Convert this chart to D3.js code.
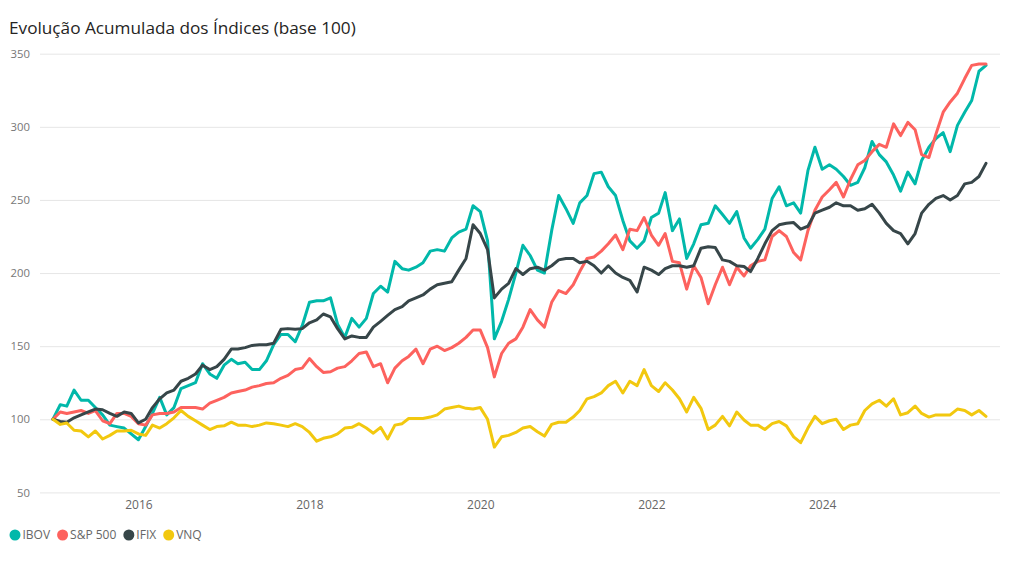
<!DOCTYPE html>
<html><head><meta charset="utf-8">
<script src="https://cdn.jsdelivr.net/npm/d3@7"></script>
<style>
html,body{margin:0;padding:0;background:#fff;}
svg{display:block;}
text{font-family:"Segoe UI","Open Sans",sans-serif;}
</style></head><body>
<svg id="chart" width="1024" height="563"></svg>
<script>
const chartTitle = "Evolução Acumulada dos Índices (base 100)";
const seriesNames = ["IBOV", "S&P 500", "IFIX", "VNQ"];
const seriesColors = ["#01B8AA", "#FD625E", "#374649", "#F2C80F"];
const yTickValues = [50, 100, 150, 200, 250, 300, 350];
const xTickLabels = ["2016", "2018", "2020", "2022", "2024"];

const ibov = [
  100,110,109,120,113,113,108,103,96,95,94,90,
  86,95,104,115,103,108,121,123,125,138,131,128,
  137,141,138,139,134,134,140,151,158,158,153,164,
  180,181,181,183,165,156,169,163,169,186,191,187,
  208,203,202,204,207,215,216,215,224,228,230,246,
  242,222,155,167,182,200,219,212,202,200,229,253,
  244,234,248,253,268,269,259,253,236,222,217,222,
  238,241,255,229,237,210,220,233,234,246,240,234,
  242,224,217,223,230,251,259,246,248,241,270,286,
  271,274,271,266,260,262,272,290,281,276,267,256,
  269,261,277,286,292,296,283,301,310,318,338,342
];
const sp500 = [
  100,105,104,105,106,104,106,99,97,104,104,102,
  97,96,103,104,104,105,108,108,108,107,111,113,
  115,118,119,120,122,123,124.5,125,128,130,134,135,
  141.5,136,132,132.5,135,136,140,145,146,136,138,125,
  135,140,143,148,138,148,150,147,149,152,156,161,
  161,149,129,145,152,155,163,175,168,163,180,188,
  186,192,201,210,211,215,220,226,216,230,229,238,
  226,219,227,208,207,189,205,197,179,192,204,192,
  204,198,205,208,209,225,229,225,214,209,229,243,
  252,257,262,252,264,274,277,283,288,286,302,294,
  303,298,281,279,295,310,317,323,333,342,343,343
];
const ifix = [
  100,98.5,98,101,103,105,107,106.5,104,102,105,104,
  97.5,100,108,114,118,120,126,128,131,137,134,136,
  141,148,148,149,150.5,151,151,152,161.5,162,161.5,162,
  166,168,172,170,162,155,157,156,156,163,167,171,
  175,177,181,183,185,189,192,193,194,202,210,233,
  227,216,183,189,193,203,199,203,204,202,205,209,
  210,210,207,208,205,200,205,200,197,195,187,204,
  202,199,203,205,205,204,205,217,218,217.5,209,208,
  205,204.5,201,210,220,229,233,234,234.5,230,232,241,
  243,245,248,246,246,243,244,247,241,234,229,227,
  220,227,241,247,251,253,250,253,261,262,266,275
];
const vnq = [
  100,96.5,97.5,92.5,92,88,92,86.5,89,92,92,92.5,
  90,89,96,94,97,101,106,102,99,96,93,95,
  95.5,98,96,96,95,96,97.5,97,96,95,97,95,
  91,85,87,88,90,94,94.5,97,94,90.5,94.5,86.5,
  96,97,100.5,100.5,100.5,101.5,103,107,108,109,107.5,107,
  108,100,81,88,89,91,94,95,91.5,88.5,96.5,98,
  98,101.5,106,114,115.5,118,123,126,118,126,123,134,
  123,119,125,120,114,105,115,107.5,93,96,102,95.5,
  105,99.5,96,96,93,97,98.5,95.5,88,84,94,102,
  97,99,100,93,96,97,106,110.5,113,109,114,103,
  104.5,109,104,101.5,103,103,103,107,106,103,106,102
];
const seriesValues = [ibov, sp500, ifix, vnq];

const months = d3.timeMonth.range(new Date(2015, 0, 1), new Date(2026, 0, 1));

const svg = d3.select("#chart");
const plotLeft = 53, plotRight = 986, plotTop = 53.7, plotBottom = 492.4;
const gridLeft = 40, gridRight = 1000;

const x = d3.scaleTime()
  .domain([months[0], months[months.length - 1]])
  .range([plotLeft, plotRight]);
const y = d3.scaleLinear()
  .domain([d3.min(yTickValues), d3.max(yTickValues)])
  .range([plotBottom, plotTop]);

// title
svg.append("text")
  .attr("x", 9).attr("y", 34)
  .attr("font-size", 17.2)
  .attr("fill", "#252423")
  .text(chartTitle);

// y axis with gridlines
const yAxis = d3.axisLeft(y)
  .tickValues(yTickValues)
  .tickFormat(d3.format("d"))
  .tickSize(-(gridRight - gridLeft))
  .tickPadding(10);
const gy = svg.append("g")
  .attr("transform", `translate(${gridLeft},0)`)
  .call(yAxis);
gy.select(".domain").remove();
gy.selectAll(".tick line").attr("stroke", "#e6e6e6").attr("stroke-width", 1);
gy.selectAll(".tick text")
  .attr("fill", "#777")
  .attr("font-size", 11.3)
  .style("font-family", '"Segoe UI","Open Sans",sans-serif');

// x axis
const xAxis = d3.axisBottom(x)
  .tickValues(xTickLabels.map(s => d3.timeParse("%Y")(s)))
  .tickFormat(d3.timeFormat("%Y"))
  .tickSize(0)
  .tickPadding(8.5);
const gx = svg.append("g")
  .attr("transform", `translate(0,${plotBottom})`)
  .call(xAxis);
gx.select(".domain").remove();
gx.selectAll(".tick text")
  .attr("fill", "#666")
  .attr("font-size", 12)
  .style("font-family", '"Segoe UI","Open Sans",sans-serif');

// lines
const line = d3.line()
  .x((d, i) => x(months[i]))
  .y(d => y(d));
seriesValues.forEach((vals, k) => {
  svg.append("path")
    .datum(vals)
    .attr("fill", "none")
    .attr("stroke", seriesColors[k])
    .attr("stroke-width", 3)
    .attr("stroke-linejoin", "round")
    .attr("stroke-linecap", "round")
    .attr("d", line);
});

// legend
let lx = 15;
const legendY = 535;
seriesNames.forEach((name, k) => {
  svg.append("circle")
    .attr("cx", lx).attr("cy", legendY).attr("r", 5.5)
    .attr("fill", seriesColors[k]);
  const t = svg.append("text")
    .attr("x", lx + 7.5).attr("y", legendY + 4.3)
    .attr("font-size", 12)
    .attr("fill", "#666")
    .text(name);
  const w = t.node().getComputedTextLength();
  lx = lx + 7.5 + w + 12.5;
});
</script>
</body></html>
